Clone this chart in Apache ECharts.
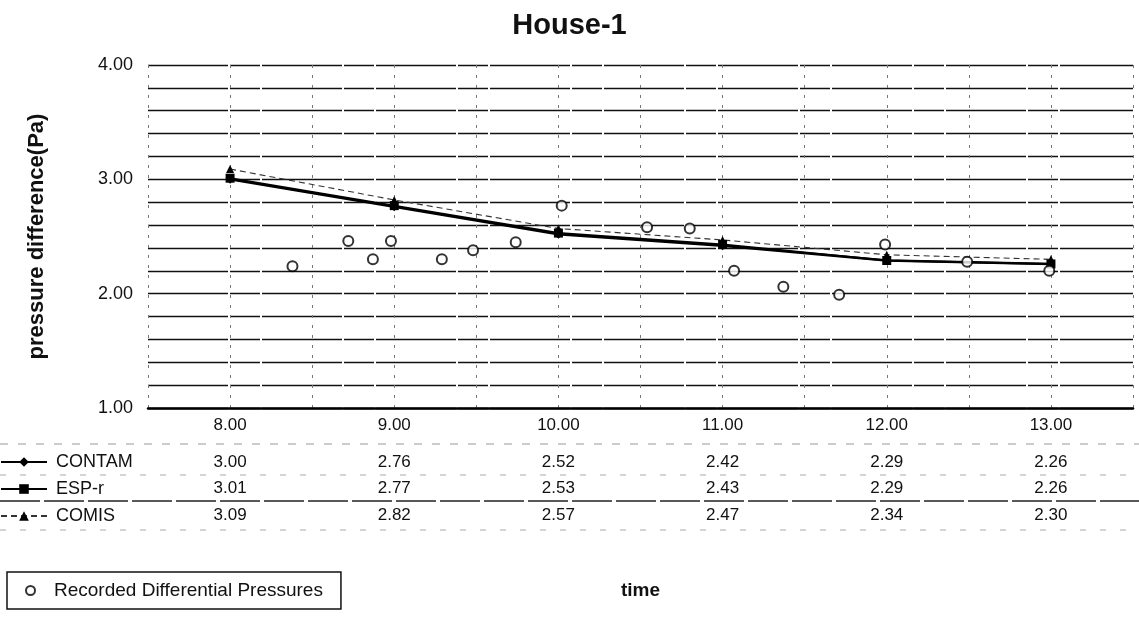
<!DOCTYPE html>
<html>
<head>
<meta charset="utf-8">
<script src="https://cdn.jsdelivr.net/npm/echarts@6/dist/echarts.min.js"></script>
<style>
html,body{margin:0;padding:0;background:#fff;}
#chart{width:1139px;height:624px;}
</style>
</head>
<body>
<div id="chart"></div>
<script>
// ---- data ----
const hours = [8, 9, 10, 11, 12, 13];
const hourLabels = ['8.00', '9.00', '10.00', '11.00', '12.00', '13.00'];
const contam = [3.00, 2.76, 2.52, 2.42, 2.29, 2.26];
const espr = [3.01, 2.77, 2.53, 2.43, 2.29, 2.26];
const comis = [3.09, 2.82, 2.57, 2.47, 2.34, 2.30];
const recTimes = [8.38, 8.72, 8.87, 8.98, 9.29, 9.48, 9.74, 10.02, 10.54, 10.80, 11.07, 11.37, 11.71, 11.99, 12.49, 12.99];
const recValues = [2.24, 2.46, 2.30, 2.46, 2.30, 2.38, 2.45, 2.77, 2.58, 2.57, 2.20, 2.06, 1.99, 2.43, 2.28, 2.20];
const seriesNames = ['CONTAM', 'ESP-r', 'COMIS'];
const recName = 'Recorded Differential Pressures';

const FONT = '"Liberation Sans", Arial, sans-serif';
const pair = (xs, ys) => xs.map((x, i) => [x, ys[i]]);
const fmt = v => v.toFixed(2);

function tableAxis(labels, margin) {
  return {
    type: 'category', gridIndex: 0, position: 'bottom', data: labels,
    boundaryGap: true,
    axisLine: {show: false}, axisTick: {show: false}, splitLine: {show: false},
    axisLabel: {interval: 0, margin: margin, fontSize: 17, color: '#111', fontFamily: FONT}
  };
}

const chart = echarts.init(document.getElementById('chart'), null, {renderer: 'canvas'});
chart.setOption({
  backgroundColor: '#fff',
  animation: false,
  title: {
    text: 'House-1', left: 'center', top: 6,
    textStyle: {fontSize: 29, fontWeight: 'bold', color: '#111', fontFamily: FONT}
  },
  grid: {left: 148, right: 6, top: 65, bottom: 216, containLabel: false},
  legend: [
    {
      data: seriesNames, orient: 'vertical', left: 0, top: 453, padding: 0,
      itemGap: 9, itemWidth: 46, itemHeight: 12,
      textStyle: {fontSize: 18, color: '#111', fontFamily: FONT, lineHeight: 18, padding: [0, 0, 0, 4]}
    },
    {
      data: [{name: recName, icon: 'emptyCircle'}], left: 7, top: 572,
      padding: [9, 18, 9, 18], borderColor: '#111', borderWidth: 1.5,
      itemWidth: 9, itemHeight: 9, itemGap: 6,
      textStyle: {fontSize: 19, color: '#111', fontFamily: FONT, padding: [0, 0, 0, 14]}
    }
  ],
  xAxis: [
    {
      type: 'value', min: 7.5, max: 13.5, interval: 0.5,
      name: 'time', nameLocation: 'middle', nameGap: 173,
      nameTextStyle: {fontSize: 19, fontWeight: 'bold', color: '#111', fontFamily: FONT},
      axisLine: {show: true, lineStyle: {color: '#000', width: 2.5}},
      axisTick: {show: false}, axisLabel: {show: false},
      splitLine: {show: true, lineStyle: {color: '#777', width: 1, type: [3, 7]}}
    },
    tableAxis(hourLabels, 9),
    tableAxis(contam.map(fmt), 46),
    tableAxis(espr.map(fmt), 72),
    tableAxis(comis.map(fmt), 99)
  ],
  yAxis: {
    type: 'value', min: 1, max: 4, interval: 0.2,
    name: 'pressure difference(Pa)', nameLocation: 'middle', nameGap: 100,
    nameTextStyle: {fontSize: 22, fontWeight: 'bold', color: '#111', fontFamily: FONT},
    axisLine: {show: false}, axisTick: {show: false},
    axisLabel: {
      margin: 15, fontSize: 18, color: '#111', fontFamily: FONT,
      formatter: v => (Math.abs(v - Math.round(v)) < 1e-6 ? v.toFixed(2) : '')
    },
    splitLine: {show: true, lineStyle: {color: '#111', width: 1.3, type: [80, 2, 30, 2]}}
  },
  series: [
    {
      name: 'CONTAM', type: 'line', xAxisIndex: 0, data: pair(hours, contam),
      symbol: 'diamond', symbolSize: 9, z: 5,
      lineStyle: {color: '#000', width: 2.5}, itemStyle: {color: '#000'}
    },
    {
      name: 'ESP-r', type: 'line', xAxisIndex: 0, data: pair(hours, espr),
      symbol: 'rect', symbolSize: 9, z: 4,
      lineStyle: {color: '#000', width: 2}, itemStyle: {color: '#000'}
    },
    {
      name: 'COMIS', type: 'line', xAxisIndex: 0, data: pair(hours, comis),
      symbol: 'triangle', symbolSize: 8, z: 3,
      lineStyle: {color: '#333', width: 1.1, type: [6, 4]}, itemStyle: {color: '#000'}
    },
    {
      name: recName, type: 'scatter', xAxisIndex: 0, data: pair(recTimes, recValues),
      symbol: 'emptyCircle', symbolSize: 10, z: 6,
      itemStyle: {color: '#000', borderColor: '#000', borderWidth: 2.2}
    }
  ],
  graphic: [
    {type: 'line', shape: {x1: 0, y1: 444, x2: 1139, y2: 444}, style: {stroke: '#999', lineWidth: 1, lineDash: [8, 10]}},
    {type: 'line', shape: {x1: 0, y1: 475, x2: 1139, y2: 475}, style: {stroke: '#aaa', lineWidth: 1, lineDash: [6, 14]}},
    {type: 'line', shape: {x1: 0, y1: 501, x2: 1139, y2: 501}, style: {stroke: '#222', lineWidth: 1.5, lineDash: [40, 4]}},
    {type: 'line', shape: {x1: 0, y1: 530, x2: 1139, y2: 530}, style: {stroke: '#aaa', lineWidth: 1, lineDash: [6, 14]}}
  ]
});
</script>
</body>
</html>
